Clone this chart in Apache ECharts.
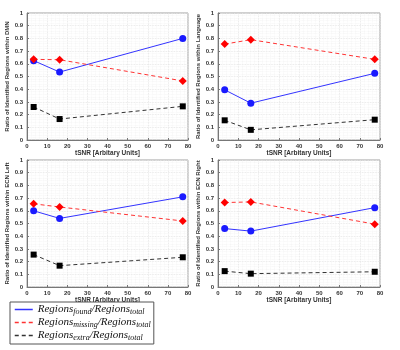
<!DOCTYPE html>
<html><head><meta charset="utf-8">
<script src="https://cdn.jsdelivr.net/npm/echarts@6/dist/echarts.min.js"></script>
<style>html,body{margin:0;padding:0;background:#fff}#c{width:400px;height:350px}</style>
</head><body><div id="c"></div>
<script>
const tsnr = [3.3, 16.2, 77.4];
const panels = ['DMN', 'Language', 'ECN Left', 'ECN Right'];
const foundDMN = [0.625, 0.535, 0.80];
const missingDMN = [0.635, 0.632, 0.465];
const extraDMN = [0.26, 0.165, 0.265];
const foundLang = [0.395, 0.29, 0.525];
const missingLang = [0.755, 0.79, 0.635];
const extraLang = [0.155, 0.08, 0.16];
const foundECNL = [0.60, 0.54, 0.71];
const missingECNL = [0.655, 0.63, 0.52];
const extraECNL = [0.255, 0.168, 0.234];
const foundECNR = [0.46, 0.44, 0.625];
const missingECNR = [0.665, 0.67, 0.495];
const extraECNR = [0.125, 0.105, 0.12];
const xTicks = [0, 10, 20, 30, 40, 50, 60, 70, 80];
const yTicks = [0, 0.1, 0.2, 0.3, 0.4, 0.5, 0.6, 0.7, 0.8, 0.9, 1];
const seriesNames = ['found', 'missing', 'extra'];

const found = [foundDMN, foundLang, foundECNL, foundECNR];
const missing = [missingDMN, missingLang, missingECNL, missingECNR];
const extra = [extraDMN, extraLang, extraECNL, extraECNR];

const grids = [
  {left: 27, top: 13, width: 161, height: 127},
  {left: 218, top: 13, width: 162, height: 127},
  {left: 27, top: 160, width: 161, height: 127},
  {left: 218, top: 160, width: 162, height: 127}
].map(g => Object.assign(g, {show: true, borderColor: '#a0a0a0', borderWidth: 1, backgroundColor: '#fff'}));

const lbl = {fontSize: 6, color: '#333', fontFamily: 'Liberation Sans', fontWeight: 'bold'};
const xAxes = [], yAxes = [], series = [];
for (let i = 0; i < 4; i++) {
  xAxes.push({
    gridIndex: i, type: 'value', min: xTicks[0], max: xTicks[xTicks.length - 1], interval: 10,
    name: 'tSNR [Arbitary Units]', nameLocation: 'middle', nameGap: 10,
    nameTextStyle: {fontSize: 6.5, color: '#333', fontFamily: 'Liberation Sans', fontWeight: 'bold'},
    axisLine: {show: true, lineStyle: {color: '#777', width: 1}},
    axisTick: {show: true, inside: true, length: 2, lineStyle: {color: '#777'}},
    axisLabel: Object.assign({margin: 3}, lbl),
    splitLine: {show: true, lineStyle: {color: '#e2e2e2', width: 0.8, type: 'dotted'}},
    minorTick: {show: false, splitNumber: 5},
    minorSplitLine: {show: true, lineStyle: {color: '#f0f0f0', width: 0.6, type: 'dotted'}}
  });
  yAxes.push({
    gridIndex: i, type: 'value', min: 0, max: 1, interval: 0.1,
    name: 'Ratio of Identified Regions within ' + panels[i], nameLocation: 'middle', nameGap: 15,
    nameTextStyle: {fontSize: 6, color: '#333', fontFamily: 'Liberation Sans', fontWeight: 'bold'},
    axisLine: {show: true, lineStyle: {color: '#777', width: 1}},
    axisTick: {show: true, inside: true, length: 2, lineStyle: {color: '#777'}},
    axisLabel: Object.assign({margin: 4, formatter: v => (Math.round(v * 10) / 10).toString()}, lbl),
    splitLine: {show: true, lineStyle: {color: '#e2e2e2', width: 0.8, type: 'dotted'}},
    minorTick: {show: false, splitNumber: 5},
    minorSplitLine: {show: true, lineStyle: {color: '#f0f0f0', width: 0.6, type: 'dotted'}}
  });
  const mk = arr => tsnr.map((x, k) => [x, arr[k]]);
  series.push({
    name: 'found', type: 'line', xAxisIndex: i, yAxisIndex: i, data: mk(found[i]),
    symbol: 'circle', symbolSize: 7, color: '#1a1aff',
    lineStyle: {color: '#3333ff', width: 1}, itemStyle: {color: '#1a1aff'}, z: 3
  });
  series.push({
    name: 'missing', type: 'line', xAxisIndex: i, yAxisIndex: i, data: mk(missing[i]),
    symbol: 'diamond', symbolSize: 8, color: '#ff0000',
    lineStyle: {color: '#ff3333', width: 1, type: [4, 3]}, itemStyle: {color: '#ff0000'}, z: 3
  });
  series.push({
    name: 'extra', type: 'line', xAxisIndex: i, yAxisIndex: i, data: mk(extra[i]),
    symbol: 'rect', symbolSize: 6, color: '#000',
    lineStyle: {color: '#333', width: 1, type: [4, 3]}, itemStyle: {color: '#000'}, z: 3
  });
}

const subs = {found: 'found', missing: 'missing', extra: 'extra'};
const option = {
  animation: false,
  backgroundColor: '#fff',
  grid: grids,
  xAxis: xAxes,
  yAxis: yAxes,
  series: series,
  legend: {
    data: seriesNames,
    orient: 'vertical', left: 10, top: 302, height: 46,
    padding: [2, 3, 2, 4], itemGap: 1, itemWidth: 18, itemHeight: 10,
    borderColor: '#555', borderWidth: 1, backgroundColor: '#fff',
    itemStyle: {opacity: 0},
    lineStyle: {width: 1.5},
    formatter: n => '{i|Regions}{s|' + subs[n] + '}{i|/Regions}{s|total}',
    textStyle: {
      rich: {
        i: {fontFamily: 'Liberation Serif', fontStyle: 'italic', fontSize: 11, color: '#111', lineHeight: 13},
        s: {fontFamily: 'Liberation Serif', fontStyle: 'italic', fontSize: 8, color: '#111', verticalAlign: 'bottom', lineHeight: 13}
      }
    }
  }
};
const chart = echarts.init(document.getElementById('c'), null, {renderer: 'canvas'});
chart.setOption(option);
</script></body></html>
